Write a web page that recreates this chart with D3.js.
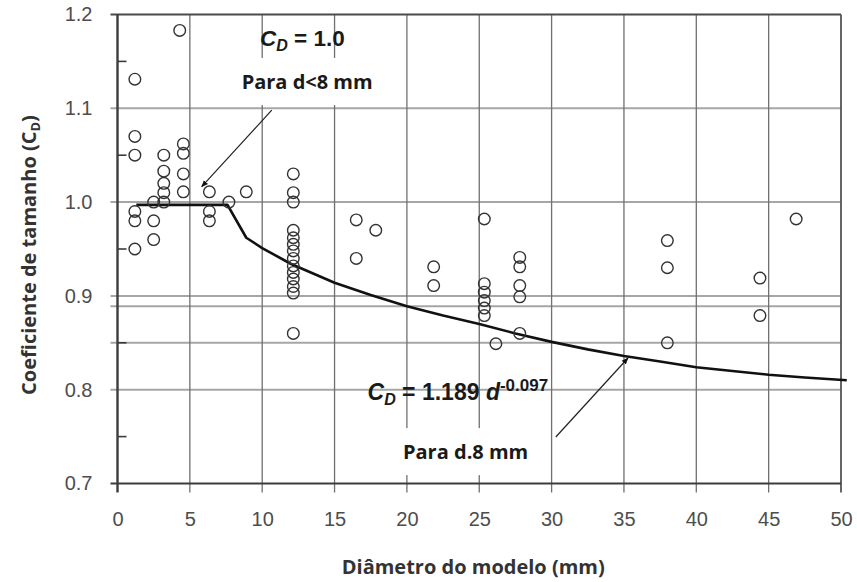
<!DOCTYPE html>
<html>
<head>
<meta charset="utf-8">
<script src="https://cdn.jsdelivr.net/npm/d3@7"></script>
<style>
  body { margin: 0; background: #fff; }
  svg { display: block; }
</style>
</head>
<body>
<svg id="chart" width="857" height="582"></svg>
<script>
// Measured size coefficient C_D against model diameter d (mm)
const diameters = [
  1.2, 1.2, 1.2, 1.2, 1.2, 1.2,
  2.5, 2.5, 2.5,
  3.2, 3.2, 3.2, 3.2, 3.2,
  4.3,
  4.55, 4.55, 4.55, 4.55,
  6.35, 6.35, 6.35,
  7.7, 8.9,
  12.15, 12.15, 12.15, 12.15, 12.15, 12.15, 12.15, 12.15, 12.15, 12.15, 12.15, 12.15, 12.15, 12.15,
  16.5, 16.5, 17.85,
  21.85, 21.85,
  25.35, 25.35, 25.35, 25.35, 25.35, 25.35,
  26.15,
  27.8, 27.8, 27.8, 27.8, 27.8,
  38.0, 38.0, 38.0,
  44.4, 44.4,
  46.9
];
const coefficients = [
  1.131, 1.07, 1.05, 0.99, 0.98, 0.95,
  1.0, 0.98, 0.96,
  1.05, 1.033, 1.02, 1.01, 1.0,
  1.183,
  1.062, 1.052, 1.03, 1.011,
  1.011, 0.99, 0.98,
  1.0, 1.011,
  1.03, 1.01, 1.0, 0.97, 0.962, 0.955, 0.948, 0.94, 0.932, 0.925, 0.918, 0.91, 0.903, 0.86,
  0.981, 0.94, 0.97,
  0.931, 0.911,
  0.982, 0.913, 0.904, 0.895, 0.887, 0.879,
  0.849,
  0.941, 0.931, 0.911, 0.899, 0.86,
  0.959, 0.93, 0.85,
  0.919, 0.879,
  0.982
];

// Design curve: flat C_D = 1.0 below 8 mm, then C_D = 1.189 d^-0.097
const curveD  = [1.3, 7.6, 8.9, 10, 12, 15, 17.5, 20, 22.5, 25, 27.5, 30, 32.5, 35, 37.5, 40, 42.5, 45, 47.5, 50.4];
const curveCD = [0.997, 0.997, 0.962, 0.951, 0.934, 0.914, 0.901, 0.889, 0.879, 0.870, 0.860, 0.851, 0.843, 0.836, 0.830, 0.824, 0.820, 0.816, 0.813, 0.810];

const xTicks = [0, 5, 10, 15, 20, 25, 30, 35, 40, 45, 50];
const yTicks = [0.7, 0.8, 0.9, 1.0, 1.1, 1.2];
const yMinorTicks = [0.75, 0.85, 0.95, 1.05, 1.15];
const yExtraGrid = [0.85, 0.889];

const W = 857, H = 582;
const m = { top: 14.5, right: 16, bottom: 98.5, left: 117.5 };

const svg = d3.select('#chart');
const x = d3.scaleLinear().domain([0, 50]).range([m.left, W - m.right]);
const y = d3.scaleLinear().domain([0.7, 1.2]).range([H - m.bottom, m.top]);

const tickFont = '"Liberation Sans", Arial, sans-serif';
const labelFont = '"Open Sans", "Noto Sans", sans-serif';

// horizontal grid lines (stick out to the left as major ticks)
svg.append('g')
  .selectAll('line')
  .data(yTicks.filter(v => v > 0.7 && v < 1.2).concat(yExtraGrid))
  .join('line')
  .attr('x1', x(0) - 7).attr('x2', x(50))
  .attr('y1', d => y(d)).attr('y2', d => y(d))
  .attr('stroke', '#a6a6a6').attr('stroke-width', 2);

// vertical grid lines (stick out below as major ticks)
svg.append('g')
  .selectAll('line')
  .data(xTicks.filter(v => v > 0 && v < 50))
  .join('line')
  .attr('x1', d => x(d)).attr('x2', d => x(d))
  .attr('y1', y(1.2)).attr('y2', y(0.7) + 9)
  .attr('stroke', '#707070').attr('stroke-width', 1.3);

// frame: top, right, left axis and bottom axis
const frame = svg.append('g');
frame.append('line')
  .attr('x1', x(0) - 7).attr('x2', x(50))
  .attr('y1', y(1.2)).attr('y2', y(1.2))
  .attr('stroke', '#4a4a4a').attr('stroke-width', 2);
frame.append('line')
  .attr('x1', x(50)).attr('x2', x(50))
  .attr('y1', y(1.2)).attr('y2', y(0.7) + 9)
  .attr('stroke', '#555').attr('stroke-width', 1.8);
frame.append('line')
  .attr('x1', x(0) - 7).attr('x2', x(50))
  .attr('y1', y(0.7)).attr('y2', y(0.7))
  .attr('stroke', '#3c3c3c').attr('stroke-width', 2.2);
frame.append('line')
  .attr('x1', x(0)).attr('x2', x(0))
  .attr('y1', y(1.2)).attr('y2', y(0.7) + 9)
  .attr('stroke', '#3c3c3c').attr('stroke-width', 2.4);

// minor ticks on the inside of the left axis
frame.append('g')
  .selectAll('line')
  .data(yMinorTicks)
  .join('line')
  .attr('x1', x(0)).attr('x2', x(0) + 9)
  .attr('y1', d => y(d)).attr('y2', d => y(d))
  .attr('stroke', '#3c3c3c').attr('stroke-width', 1.6);

// tick labels
const yAxis = svg.append('g')
  .attr('transform', `translate(${x(0)},0)`)
  .call(d3.axisLeft(y).tickValues(yTicks).tickFormat(d3.format('.1f')).tickSize(0).tickPadding(25));
const xAxis = svg.append('g')
  .attr('transform', `translate(0,${y(0.7)})`)
  .call(d3.axisBottom(x).tickValues(xTicks).tickFormat(d3.format('d')).tickSize(0).tickPadding(28));
[yAxis, xAxis].forEach(a => {
  a.select('.domain').remove();
  a.selectAll('text')
    .attr('font-family', tickFont)
    .attr('font-size', 20)
    .attr('fill', '#4d4d4d');
});

// annotation layer (white boxes go under the text, over the grid)
const boxLayer = svg.append('g');

// design curve
const line = d3.line().x((d, i) => x(curveD[i])).y((d, i) => y(curveCD[i]));
svg.append('path')
  .datum(curveD)
  .attr('d', line)
  .attr('fill', 'none')
  .attr('stroke', '#111')
  .attr('stroke-width', 2.6)
  .attr('stroke-linejoin', 'round');

// measured points
svg.append('g')
  .selectAll('circle')
  .data(diameters)
  .join('circle')
  .attr('cx', d => x(d))
  .attr('cy', (d, i) => y(coefficients[i]))
  .attr('r', 5.8)
  .attr('fill', 'none')
  .attr('stroke', '#333')
  .attr('stroke-width', 1.4);

// arrows
svg.append('defs').append('marker')
  .attr('id', 'head')
  .attr('viewBox', '0 0 10 10')
  .attr('refX', 9).attr('refY', 5)
  .attr('markerWidth', 7).attr('markerHeight', 7)
  .attr('markerUnits', 'userSpaceOnUse')
  .attr('orient', 'auto')
  .append('path')
  .attr('d', 'M0,1 L10,5 L0,9 Z')
  .attr('fill', '#111');

const arrows = [
  { from: [10.66, 1.098], to: [5.82, 1.0164] },
  { from: [30.29, 0.7496], to: [35.28, 0.8338] }
];
svg.append('g')
  .selectAll('line')
  .data(arrows)
  .join('line')
  .attr('x1', d => x(d.from[0])).attr('y1', d => y(d.from[1]))
  .attr('x2', d => x(d.to[0])).attr('y2', d => y(d.to[1]))
  .attr('stroke', '#222').attr('stroke-width', 1.2)
  .attr('marker-end', 'url(#head)');

// equations
function equation(d, v, size, parts) {
  const t = svg.append('text')
    .attr('x', x(d)).attr('y', y(v))
    .attr('font-family', tickFont)
    .attr('font-weight', 'bold')
    .attr('font-size', size)
    .attr('fill', '#1a1a1a');
  parts.forEach(p => {
    const s = t.append('tspan').text(p.text);
    if (p.italic) s.attr('font-style', 'italic');
    if (p.size) s.attr('font-size', p.size);
    if (p.dy) s.attr('dy', p.dy);
  });
  return t;
}
equation(9.85, 1.1664, 22.5, [
  { text: 'C', italic: true },
  { text: 'D', italic: true, size: 16, dy: 5 },
  { text: ' = 1.0', dy: -5 }
]);
equation(17.28, 0.789, 23, [
  { text: 'C', italic: true },
  { text: 'D', italic: true, size: 16, dy: 5 },
  { text: ' = 1.189 ', dy: -5 },
  { text: 'd', italic: true },
  { text: '-0.097', size: 17, dy: -9 }
]);

// range notes with white backing boxes
function note(d, v, str) {
  const t = svg.append('text')
    .attr('x', x(d)).attr('y', y(v))
    .attr('font-family', labelFont)
    .attr('font-weight', 'bold')
    .attr('font-size', 20)
    .attr('fill', '#1a1a1a')
    .text(str);
  const b = t.node().getBBox();
  boxLayer.append('rect')
    .attr('x', b.x - 8).attr('y', b.y - 10)
    .attr('width', b.width + 16).attr('height', b.height + 20)
    .attr('fill', '#fff');
}
note(8.58, 1.1206, 'Para d<8 mm');
note(19.73, 0.726, 'Para d.8 mm');

// axis titles
svg.append('text')
  .attr('x', (x(0) + x(50)) / 2 - 6)
  .attr('y', 574)
  .attr('text-anchor', 'middle')
  .attr('font-family', labelFont)
  .attr('font-weight', 'bold')
  .attr('font-size', 20)
  .attr('fill', '#333')
  .text('Diâmetro do modelo (mm)');

const yt = svg.append('text')
  .attr('transform', `translate(36,${(y(0.7) + y(1.2)) / 2 + 6}) rotate(-90)`)
  .attr('text-anchor', 'middle')
  .attr('font-family', labelFont)
  .attr('font-weight', 'bold')
  .attr('font-size', 20)
  .attr('fill', '#333');
yt.append('tspan').text('Coeficiente de tamanho (C');
yt.append('tspan').text('D').attr('font-size', 13).attr('dy', 4);
yt.append('tspan').text(')').attr('dy', -4);
</script>
</body>
</html>
